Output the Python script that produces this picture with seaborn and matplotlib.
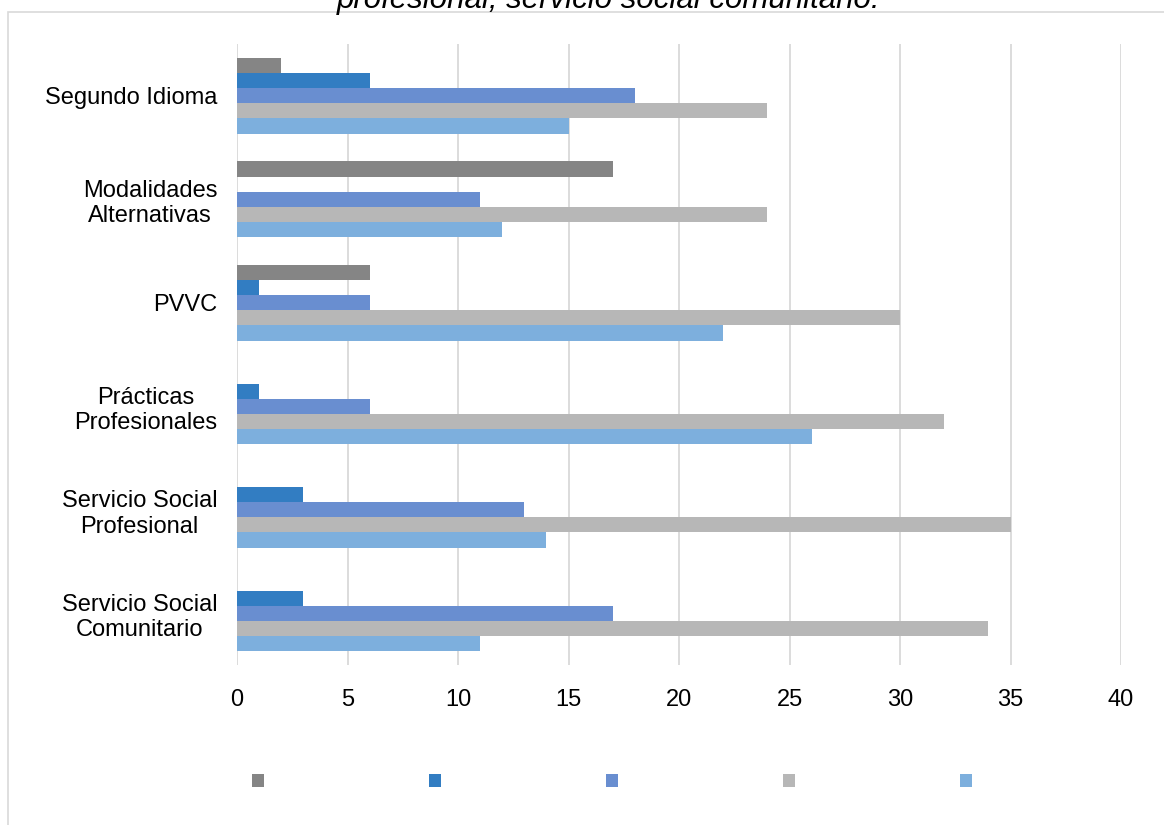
import matplotlib
matplotlib.use('Agg')
import matplotlib.pyplot as plt
from matplotlib.patches import Rectangle, Patch
import seaborn as sns
import pandas as pd

# datos (de arriba hacia abajo)
categorias = ["Segundo Idioma", "Modalidades\nAlternativas", "PVVC",
              "Prácticas\nProfesionales", "Servicio Social\nProfesional",
              "Servicio Social\nComunitario"]
series = ["Serie 1", "Serie 2", "Serie 3", "Serie 4", "Serie 5"]
serie_1 = [2, 17, 6, 0, 0, 0]
serie_2 = [6, 0, 1, 1, 3, 3]
serie_3 = [18, 11, 6, 6, 13, 17]
serie_4 = [24, 24, 30, 32, 35, 34]
serie_5 = [15, 12, 22, 26, 14, 11]
colores = ["#858585", "#327DC2", "#698ED0", "#B7B7B7", "#7DAFDD"]
x_ticks = [0, 5, 10, 15, 20, 25, 30, 35, 40]
titulo = "profesional, servicio social comunitario."

valores = [serie_1, serie_2, serie_3, serie_4, serie_5]
filas = []
for nombre, vals in zip(series, valores):
    for cat, v in zip(categorias, vals):
        filas.append({"categoria": cat, "serie": nombre, "valor": v})
df = pd.DataFrame(filas)

sns.set_theme(style="white")
plt.rcParams['font.family'] = ['Liberation Sans', 'DejaVu Sans']

W, H = 1164, 825
fig = plt.figure(figsize=(W / 100, H / 100), dpi=100)
ax = fig.add_axes([237 / W, 1 - 665 / H, (1121 - 237) / W, (665 - 44) / H])

sns.barplot(data=df, x="valor", y="categoria", hue="serie", order=categorias,
            hue_order=series, palette=colores, width=0.73, orient="h",
            linewidth=0, saturation=1, ax=ax, legend=False)

ax.set_xlim(0, 40)
ax.set_xticks(x_ticks)
ax.set_xlabel("")
ax.set_ylabel("")
for s in ax.spines.values():
    s.set_visible(False)
ax.set_axisbelow(True)
ax.grid(axis="x", color="#D9D9D9", linewidth=1.3)
ax.grid(axis="y", visible=False)
ax.tick_params(axis="both", length=0, labelsize=17, colors="black")
ax.tick_params(axis="y", pad=14)
ax.tick_params(axis="x", pad=17)
for lab in ax.get_yticklabels():
    lab.set_multialignment("center")

# titulo cortado en la parte superior (igual que en la imagen original)
fig.text(609 / W, 1 - 8 / H, titulo, ha="center", va="baseline",
         fontsize=22.5, style="italic", color="black")

# borde del area del grafico
fig.patches.append(Rectangle((8 / W, -0.1), 2, 1.1 - 12.5 / H,
                             transform=fig.transFigure, fill=False,
                             edgecolor="#D9D9D9", linewidth=1.2))

# leyenda sin textos
handles = [Patch(facecolor=c, edgecolor="none") for c in colores]
fig.legend(handles, [""] * 5, ncol=5, loc="center left",
           bbox_to_anchor=(252 / W, 1 - 783 / H), frameon=False,
           fontsize=17, handlelength=0.51, handleheight=0.51,
           handletextpad=0, columnspacing=6.99, borderpad=0,
           borderaxespad=0)

fig.savefig("out.png", dpi=100)
